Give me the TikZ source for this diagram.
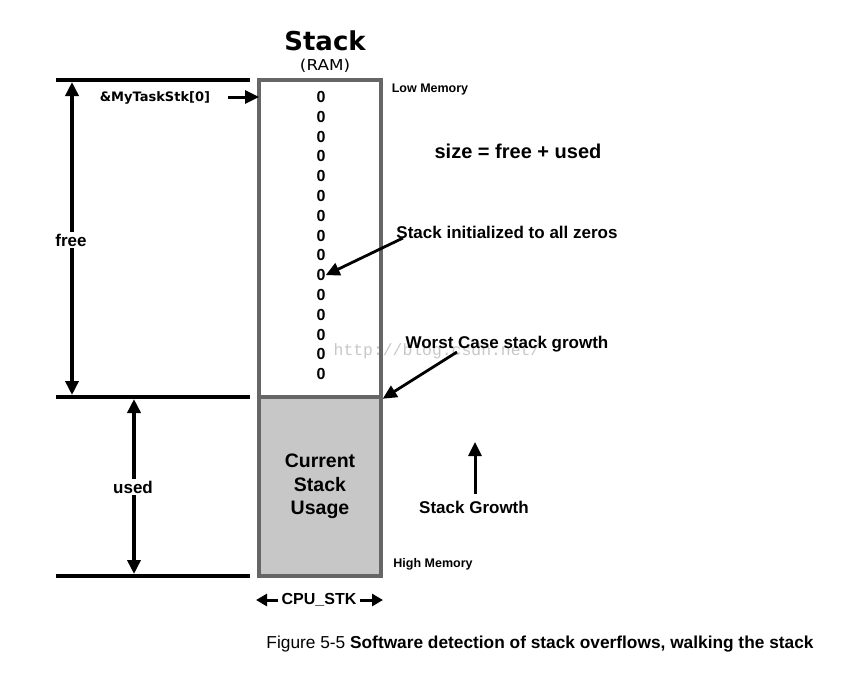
\documentclass[tikz,border=0pt]{standalone}
\usepackage{fontspec}
\setmainfont{Liberation Sans}
\newfontfamily\verd{DejaVu Sans}
\newfontfamily\monof{Liberation Mono}
\usetikzlibrary{arrows.meta}
\begin{document}
\begin{tikzpicture}[x=1pt,y=-1pt,
  tip/.style={-{Triangle[length=14pt,width=13pt]}},
  dtip/.style={{Triangle[length=14pt,width=13pt]}-{Triangle[length=14pt,width=13pt]}},
  rule/.style={line width=3.8pt},
  stackpart/.style={draw=black!60,line width=3.5pt,inner sep=0pt,minimum width=122pt},
  lbl/.style={font=\bfseries\fontsize{17}{20}\selectfont,inner sep=1pt},
  small/.style={font=\bfseries\fontsize{12.5}{14}\selectfont,inner sep=0pt},
  zero/.style={font=\bfseries\fontsize{16}{17}\selectfont,inner sep=0pt}]
\useasboundingbox (0,0) rectangle (859,681);
% stack box
\node[stackpart,minimum height=317pt] (freebox) at (320,238.5) {};
\node[stackpart,fill=black!22,minimum height=179pt,align=center,
  font=\bfseries\fontsize{19.5}{23.5}\selectfont] (usedbox) at (320,486.5) {Current\\Stack\\Usage};
% titles
\node[font=\verd\bfseries\fontsize{26}{30}\selectfont,inner sep=0pt] (title) at (325,41) {Stack};
\node[font=\verd\fontsize{15}{17}\selectfont,inner sep=0pt,xscale=1.12] (ram) at (325,66) {(RAM)};
% rules
\coordinate (r1a) at (56,80);  \coordinate (r1b) at (250,80);
\coordinate (r2a) at (56,397); \coordinate (r2b) at (250,397);
\coordinate (r3a) at (56,576); \coordinate (r3b) at (250,576);
\draw[rule] (r1a) -- (r1b);
\draw[rule] (r2a) -- (r2b);
\draw[rule] (r3a) -- (r3b);
% free / used
\coordinate (ft) at (72,82); \coordinate (fb) at (72,395);
\draw[line width=3.5pt,dtip] (ft) -- (fb);
\node[lbl,fill=white,inner sep=2pt] (free) at (71,240) {free};
\coordinate (ut) at (134,399); \coordinate (ub) at (134,574);
\draw[line width=3.5pt,dtip] (ut) -- (ub);
\node[lbl,fill=white,inner sep=2pt] (used) at (133,487) {used};
% &MyTaskStk[0]
\node[font=\verd\bfseries\fontsize{13}{15}\selectfont,inner sep=0pt] (base) at (155,98) {\&MyTaskStk[0]};
\coordinate (basetail) at (228,97);
\coordinate (basetip) at (259,97);
\draw[line width=3pt,tip] (basetail) -- (basetip);
% zeros
\foreach \i in {0,...,14} {
  \node[zero] (z\i) at (321,{97+19.8*\i}) {0};
}
% labels
\node[small] (low) at (430,89) {Low Memory};
\node[small] (high) at (433,564) {High Memory};
\node[font=\bfseries\fontsize{20}{24}\selectfont,inner sep=0pt] (size) at (518,151) {size = free + used};
\node[lbl] (init) at (507,232) {Stack initialized to all zeros};
\coordinate (inittail) at (403,238);
\draw[line width=2.8pt,tip] (inittail) -- (z9.east);
\node[font=\monof\fontsize{16.4}{18}\selectfont,text=black!22,inner sep=0pt] (wm) at (437,351) {http://blog.csdn.net/};
\node[lbl] (worst) at (507,344) {Worst Case stack growth};
\coordinate (worsttail) at (457,352);
\draw[line width=2.8pt,tip] (worsttail) -- (freebox.south east);
\node[lbl] (growth) at (474,507) {Stack Growth};
\coordinate (gtail) at (475,494);
\coordinate (gt) at (475,442);
\draw[line width=3pt,tip] (gtail) -- (gt);
% CPU_STK
\node[font=\bfseries\fontsize{16}{18}\selectfont,inner sep=0pt] (cpu) at (319,600) {CPU\_STK};
\coordinate (cll) at (278,600); \coordinate (cl) at (256,600);
\coordinate (crr) at (360,600); \coordinate (cr) at (383,600);
\draw[line width=3pt,-{Triangle[length=11pt,width=12pt]}] (cll) -- (cl);
\draw[line width=3pt,-{Triangle[length=11pt,width=12pt]}] (crr) -- (cr);
% caption
\node[font=\fontsize{17.3}{20}\selectfont,inner sep=0pt] (cap) at (540,644) {Figure 5-5 \textbf{Software detection of stack overflows, walking the stack}};
\end{tikzpicture}
\end{document}
